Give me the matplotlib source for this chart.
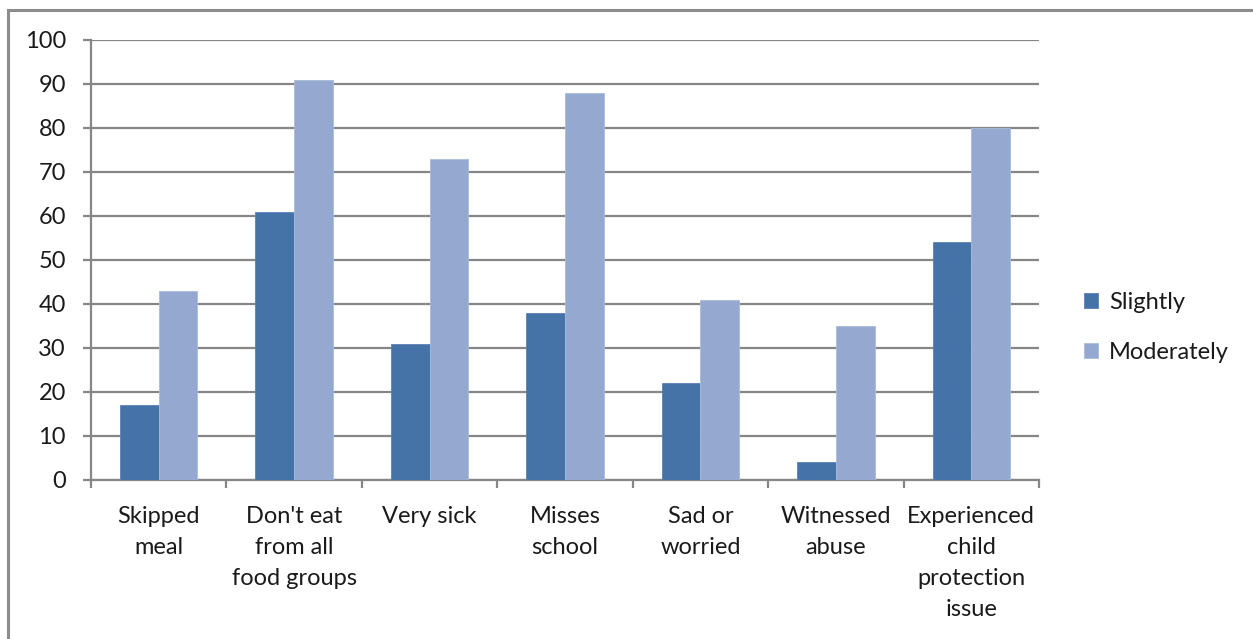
import matplotlib.pyplot as plt
import numpy as np

# datos de la grafica
categorias = ["Skipped\nmeal", "Don't eat\nfrom all\nfood groups", "Very sick",
              "Misses\nschool", "Sad or\nworried", "Witnessed\nabuse",
              "Experienced\nchild\nprotection\nissue"]
slightly = [17, 61, 31, 38, 22, 4, 54]
moderately = [43, 91, 73, 88, 41, 35, 80]
series = ["Slightly", "Moderately"]

plt.rcParams['font.family'] = ['Lato', 'DejaVu Sans']
plt.rcParams['text.color'] = '#1a1a1a'
plt.rcParams['xtick.labelcolor'] = '#1a1a1a'
plt.rcParams['ytick.labelcolor'] = '#1a1a1a'

fig = plt.figure(figsize=(12.53, 6.39), dpi=100)
ax = fig.add_axes([91/1253, 1 - 480/639, (1039 - 91)/1253, (480 - 40)/639])

x = np.arange(len(categorias))
w = 1 / 3.5  # ancho de barra (gap de 150%)
ax.bar(x - w/2, slightly, w, color='#4572A7', edgecolor='#5a82b5', linewidth=0.6,
       label=series[0], zorder=3)
ax.bar(x + w/2, moderately, w, color='#95A9D0', edgecolor='#a9bbdc', linewidth=0.6,
       label=series[1], zorder=3)

ax.set_xlim(-0.5, len(categorias) - 0.5)
ax.set_ylim(0, 100)
ax.set_yticks(range(0, 101, 10))
ax.yaxis.grid(True, color='#868686', linewidth=1.6, zorder=0)

# marcas del eje x entre categorias
ax.set_xticks(np.arange(-0.5, len(categorias), 1))
ax.set_xticklabels([])
ax.set_xticks(x, minor=True)
ax.set_xticklabels(categorias, minor=True, fontsize=17, linespacing=1.6,
                   va='top')
ax.tick_params(axis='x', which='minor', length=0, pad=18.5)
ax.tick_params(axis='x', which='major', length=6, width=1.6, color='#868686')
ax.tick_params(axis='y', length=6, width=1.6, color='#868686', labelsize=17,
               pad=12)

for lado in ['top', 'right']:
    ax.spines[lado].set_visible(False)
for lado in ['left', 'bottom']:
    ax.spines[lado].set_color('#868686')
    ax.spines[lado].set_linewidth(1.6)

ax.legend(loc='center left', bbox_to_anchor=(1.025, 0.347), frameon=False,
          fontsize=17, handlelength=0.6, handleheight=0.6,
          handletextpad=0.45, labelspacing=1.25)

# borde del area de la grafica (arriba e izquierda)
fig.add_artist(plt.Line2D([8/1253, 1], [1 - 10/639, 1 - 10/639],
                          color='#8c8c8c', linewidth=2.2))
fig.add_artist(plt.Line2D([8/1253, 8/1253], [0, 1 - 10/639],
                          color='#8c8c8c', linewidth=2.2))

fig.savefig('out.png', dpi=100)
